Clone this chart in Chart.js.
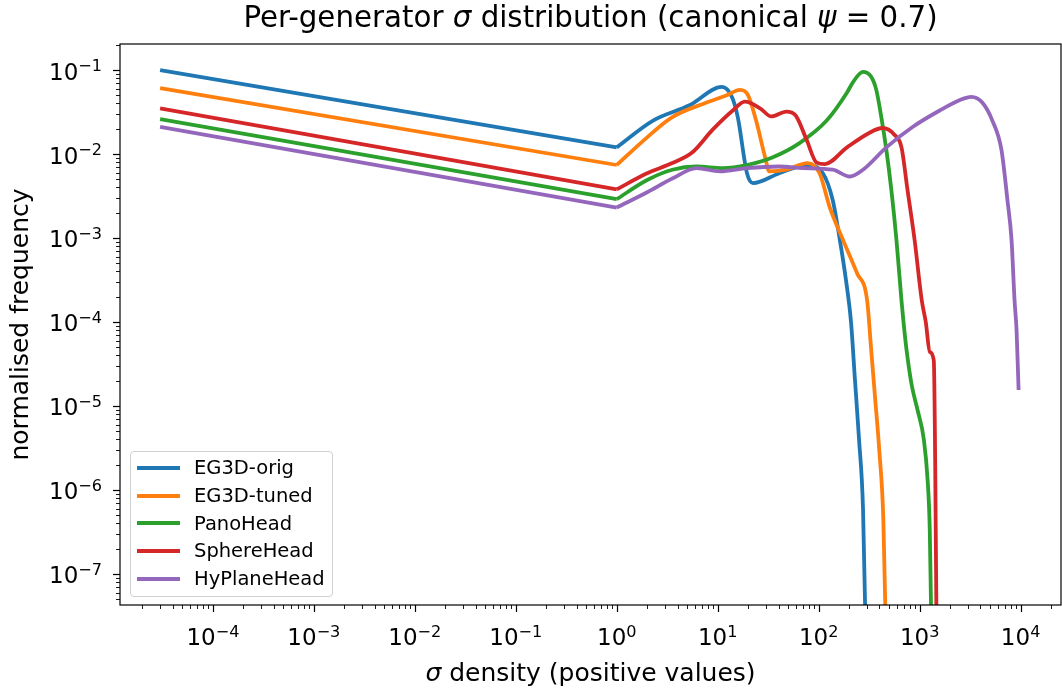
<!DOCTYPE html>
<html>
<head>
<meta charset="utf-8">
<script src="https://cdn.jsdelivr.net/npm/chart.js@4.4.1/dist/chart.umd.min.js"></script>
<style>
  body { margin: 0; background: #fff; }
  #wrap { position: relative; width: 1062px; height: 690px; }
  #legenda {
    position: absolute; left: 130px; top: 451px; width: 203px; height: 146px;
    border: 1px solid #d0d0d0; border-radius: 4px; background: rgba(255,255,255,0.8);
    font-family: 'DejaVu Sans'; font-size: 19.5px; color: #000;
    box-sizing: border-box; padding-top: 2px;
  }
  .item { display: flex; align-items: center; height: 27.7px; white-space: nowrap; }
  .traco { width: 43px; height: 4px; margin-left: 6px; margin-right: 14px; }
</style>
</head>
<body>
<div id="wrap">
  <canvas id="grafico" width="1062" height="690"></canvas>
  <div id="legenda"></div>
</div>
<script>
// valores (eixos log-log)
const nomes = ['EG3D-orig', 'EG3D-tuned', 'PanoHead', 'SphereHead', 'HyPlaneHead'];
const cores = ['#1f77b4', '#ff7f0e', '#2ca02c', '#d62728', '#9467bd'];

const eg3dOrigX = [3.0e-5, 1, 2.29, 5.25, 11.0, 13.8, 15.8, 19.5, 22.4, 40.7, 75.9, 110, 138, 162, 186, 209, 229, 251, 275, 295];
const eg3dOrigY = [0.1, 0.012, 0.025, 0.038, 0.063, 0.048, 0.0275, 0.0059, 0.0045, 0.0059, 0.0074, 0.0059, 0.0028, 9.5e-4, 3.2e-4, 1e-4, 2.0e-5, 4.0e-6, 5.8e-7, 1e-8];

const eg3dTunedX = [3.0e-5, 1, 2.0, 3.55, 7.76, 12.3, 16.6, 20.0, 24.0, 29.5, 32.4, 47.9, 77.6, 102, 129, 174, 240, 302, 331, 363, 398, 437, 468];
const eg3dTunedY = [0.061, 0.0074, 0.0158, 0.0275, 0.041, 0.050, 0.058, 0.050, 0.025, 0.0091, 0.0062, 0.0065, 0.0078, 0.0059, 0.0023, 9.5e-4, 3.8e-4, 1.8e-4, 4.7e-5, 1.2e-5, 3.0e-6, 4.4e-7, 1e-8];

const panoHeadX = [3.0e-5, 1, 2.0, 3.55, 6.17, 11.2, 19.5, 34.7, 64.6, 120, 191, 219, 275, 331, 372, 417, 468, 525, 589, 661, 692, 741, 832, 955, 1100, 1200, 1260, 1320];
const panoHeadY = [0.026, 0.0029, 0.0049, 0.0065, 0.0071, 0.0068, 0.0074, 0.0091, 0.0135, 0.025, 0.054, 0.072, 0.095, 0.083, 0.058, 0.0275, 0.0112, 0.0037, 9.5e-4, 1.8e-4, 1e-4, 4.7e-5, 1.8e-5, 8.9e-6, 4.0e-6, 1.3e-6, 3.3e-7, 1e-8];

const sphereHeadX = [3.0e-5, 1, 2.0, 3.55, 5.62, 8.91, 14.1, 18.6, 26.3, 33.9, 47.9, 58.9, 75.9, 95.5, 115, 191, 316, 427, 562, 661, 759, 891, 1050, 1150, 1260, 1380, 1480];
const sphereHeadY = [0.035, 0.0038, 0.0059, 0.0078, 0.0105, 0.0195, 0.033, 0.042, 0.035, 0.028, 0.032, 0.029, 0.0148, 0.0079, 0.0076, 0.012, 0.0178, 0.0204, 0.017, 0.012, 0.0037, 9.5e-4, 1.8e-4, 1e-4, 4.4e-5, 3.5e-5, 1e-8];

const hyPlaneHeadX = [3.0e-5, 1, 2.0, 3.55, 6.17, 10.5, 19.5, 40.7, 69.2, 138, 204, 275, 468, 851, 1580, 2510, 3240, 4170, 5250, 6460, 7410, 8130, 8710, 9120, 9550];
const hyPlaneHeadY = [0.021, 0.0023, 0.0035, 0.0051, 0.0068, 0.0062, 0.0068, 0.0071, 0.0068, 0.0065, 0.0054, 0.0065, 0.012, 0.021, 0.033, 0.044, 0.048, 0.041, 0.025, 0.0112, 0.0028, 9.5e-4, 1.8e-4, 7.9e-5, 1.55e-5];

const ticksX = [1e-4, 1e-3, 1e-2, 1e-1, 1, 10, 100, 1000, 10000];
const expoentesX = ['−4', '−3', '−2', '−1', '0', '1', '2', '3', '4'];
const ticksY = [1e-7, 1e-6, 1e-5, 1e-4, 1e-3, 1e-2, 1e-1];
const expoentesY = ['−7', '−6', '−5', '−4', '−3', '−2', '−1'];

const titulo = [['Per-generator ', false], ['σ', true], [' distribution (canonical ', false], ['ψ', true], [' = 0.7)', false]];
const tituloX = [['σ', true], [' density (positive values)', false]];

const seriesX = [eg3dOrigX, eg3dTunedX, panoHeadX, sphereHeadX, hyPlaneHeadX];
const seriesY = [eg3dOrigY, eg3dTunedY, panoHeadY, sphereHeadY, hyPlaneHeadY];

function montarPontos(xs, ys) {
  return xs.map((x, i) => ({ x: x, y: ys[i] }));
}

function fonte(tam, italico) {
  return `${italico ? 'italic ' : ''}${tam}px "DejaVu Sans"`;
}

// texto com partes em itálico (como o mathtext)
function textoMisto(ctx, partes, cx, yBase, tam) {
  let total = 0;
  partes.forEach(p => { ctx.font = fonte(tam, p[1]); total += ctx.measureText(p[0]).width; });
  let x = cx - total / 2;
  partes.forEach(p => {
    ctx.font = fonte(tam, p[1]);
    ctx.fillText(p[0], x, yBase);
    x += ctx.measureText(p[0]).width;
  });
}

// rótulo 10^n com expoente menor e elevado
function potencia(ctx, exp, x, yBase, tam, alinhar) {
  ctx.font = fonte(tam);
  const w1 = ctx.measureText('10').width;
  ctx.font = fonte(tam * 0.7);
  const w2 = ctx.measureText(exp).width;
  const x0 = alinhar === 'center' ? x - (w1 + w2) / 2 : x - (w1 + w2);
  ctx.font = fonte(tam);
  ctx.fillText('10', x0, yBase);
  ctx.font = fonte(tam * 0.7);
  ctx.fillText(exp, x0 + w1, yBase - 0.36 * tam);
}

const eixosPlugin = {
  id: 'eixos',
  afterDraw(chart) {
    const ctx = chart.ctx;
    const a = chart.chartArea;
    const sx = chart.scales.x;
    const sy = chart.scales.y;
    ctx.save();
    ctx.strokeStyle = '#000';
    ctx.fillStyle = '#000';
    ctx.lineWidth = 1.2;
    ctx.strokeRect(a.left, a.top, a.right - a.left, a.bottom - a.top);

    // ticks maiores e menores
    for (let e = -9; e <= 5; e++) {
      for (let k = 1; k <= 9; k++) {
        const v = k * Math.pow(10, e);
        const len = k === 1 ? 7 : 4;
        ctx.lineWidth = k === 1 ? 1.2 : 0.9;
        if (v >= sx.min && v <= sx.max) {
          const p = Math.round(sx.getPixelForValue(v)) + 0.5;
          ctx.beginPath(); ctx.moveTo(p, a.bottom); ctx.lineTo(p, a.bottom + len); ctx.stroke();
        }
        if (v >= sy.min && v <= sy.max) {
          const p = Math.round(sy.getPixelForValue(v)) + 0.5;
          ctx.beginPath(); ctx.moveTo(a.left, p); ctx.lineTo(a.left - len, p); ctx.stroke();
        }
      }
    }

    ctx.textBaseline = 'alphabetic';
    ctx.textAlign = 'left';
    ticksX.forEach((v, i) => potencia(ctx, expoentesX[i], sx.getPixelForValue(v), 645, 23, 'center'));
    ticksY.forEach((v, i) => potencia(ctx, expoentesY[i], 102, sy.getPixelForValue(v) + 9.5, 23, 'right'));

    const cx = (a.left + a.right) / 2;
    textoMisto(ctx, titulo, cx, 27, 29.3);
    textoMisto(ctx, tituloX, cx, 681, 25);
    ctx.restore();
  }
};

function gerarGrafico() {
  Chart.defaults.font.family = 'DejaVu Sans';
  Chart.defaults.font.size = 23;
  Chart.defaults.color = '#000';

  // trecho reto até 10^0 e trecho suave depois (cada série em duas partes)
  const datasets = [];
  nomes.forEach((nome, i) => {
    const base = {
      label: nome,
      borderColor: cores[i],
      backgroundColor: cores[i],
      borderWidth: 3.8,
      pointRadius: 0,
      fill: false,
      borderJoinStyle: 'round',
      borderCapStyle: 'butt',
      order: -i
    };
    datasets.push(Object.assign({}, base, {
      data: montarPontos(seriesX[i].slice(0, 2), seriesY[i].slice(0, 2)),
      tension: 0
    }));
    datasets.push(Object.assign({}, base, {
      data: montarPontos(seriesX[i].slice(1), seriesY[i].slice(1)),
      cubicInterpolationMode: 'monotone'
    }));
  });

  const ctx = document.getElementById('grafico').getContext('2d');

  new Chart(ctx, {
    type: 'line',
    data: { datasets: datasets },
    options: {
      responsive: false,
      animation: false,
      layout: { padding: { top: 44, right: 1 } },
      scales: {
        x: {
          type: 'logarithmic',
          min: Math.pow(10, -4.92),
          max: Math.pow(10, 4.4),
          afterBuildTicks: s => { s.ticks = ticksX.map(v => ({ value: v })); },
          afterFit: s => { s.height = 85; },
          ticks: { display: false },
          grid: { display: false },
          border: { display: false }
        },
        y: {
          type: 'logarithmic',
          min: Math.pow(10, -7.37),
          max: Math.pow(10, -0.69),
          afterBuildTicks: s => { s.ticks = ticksY.map(v => ({ value: v })); },
          afterFit: s => { s.width = 120; },
          ticks: { display: false },
          grid: { display: false },
          border: { display: false },
          title: {
            display: true,
            text: 'normalised frequency',
            font: { size: 25 },
            padding: { top: 6, bottom: 0 }
          }
        }
      },
      plugins: {
        legend: { display: false },
        tooltip: { enabled: false }
      }
    },
    plugins: [eixosPlugin]
  });

  const legenda = document.getElementById('legenda');
  nomes.forEach((nome, i) => {
    const item = document.createElement('div');
    item.className = 'item';
    item.innerHTML = `<span class="traco" style="background:${cores[i]}"></span><span>${nome}</span>`;
    legenda.appendChild(item);
  });
}

window.onload = gerarGrafico;
</script>
</body>
</html>
